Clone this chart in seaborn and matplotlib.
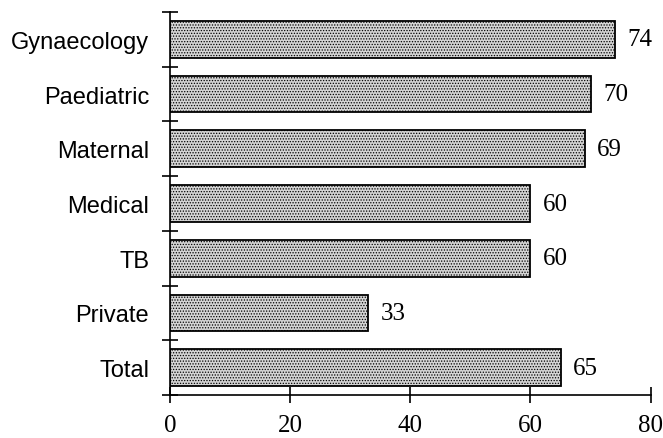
import matplotlib
matplotlib.use("Agg")
import matplotlib.pyplot as plt
import seaborn as sns
import pandas as pd
import numpy as np

categories = ["Gynaecology", "Paediatric", "Maternal", "Medical", "TB", "Private", "Total"]
values = [74, 70, 69, 60, 60, 33, 65]
xticks = [0, 20, 40, 60, 80]

sns.set_style("white")
plt.rcParams["hatch.color"] = "#909090"
plt.rcParams["hatch.linewidth"] = 0.6
plt.rcParams["text.color"] = "black"
plt.rcParams["xtick.color"] = "black"
plt.rcParams["ytick.color"] = "black"
plt.rcParams["axes.edgecolor"] = "black"

df = pd.DataFrame({"category": categories, "value": values})

fig = plt.figure(figsize=(6.63, 4.39), dpi=100)
ax = fig.add_axes([0.2564, 0.0979, 0.725, 0.8725])

sns.barplot(data=df, y="category", x="value", order=categories, orient="h",
            color="#d4d4d4", saturation=1, width=0.67, edgecolor="black",
            linewidth=1.3, ax=ax)
for p in ax.patches:
    p.set_hatch("......")

for i, v in enumerate(values):
    ax.annotate(str(v), xy=(v, i), xytext=(9, 0), textcoords="offset points",
                ha="left", va="center", fontsize=18, family="Liberation Serif",
                color="black")

ax.set_xlim(0, 80)
ax.set_ylim(len(categories) - 0.5, -0.5)
ax.set_xticks(xticks)
ax.set_xticklabels([str(t) for t in xticks], family="Liberation Serif", fontsize=18)
ax.set_yticks(np.arange(-0.5, len(categories), 1.0))
ax.set_yticklabels([])
ax.set_yticks(np.arange(len(categories)), minor=True)
ax.set_yticklabels(categories, minor=True, family="Liberation Sans", fontsize=17)
ax.tick_params(axis="y", which="minor", left=True, length=0, pad=15)
ax.tick_params(axis="y", which="major", left=True, direction="inout", length=11,
               width=1.2, color="black")
ax.tick_params(axis="x", which="major", bottom=True, direction="inout", length=11,
               width=1.2, color="black", pad=8)
ax.set_xlabel("")
ax.set_ylabel("")
for s in ["top", "right"]:
    ax.spines[s].set_visible(False)
for s in ["left", "bottom"]:
    ax.spines[s].set_color("black")
    ax.spines[s].set_linewidth(1.2)

fig.savefig("out.png", dpi=100)
